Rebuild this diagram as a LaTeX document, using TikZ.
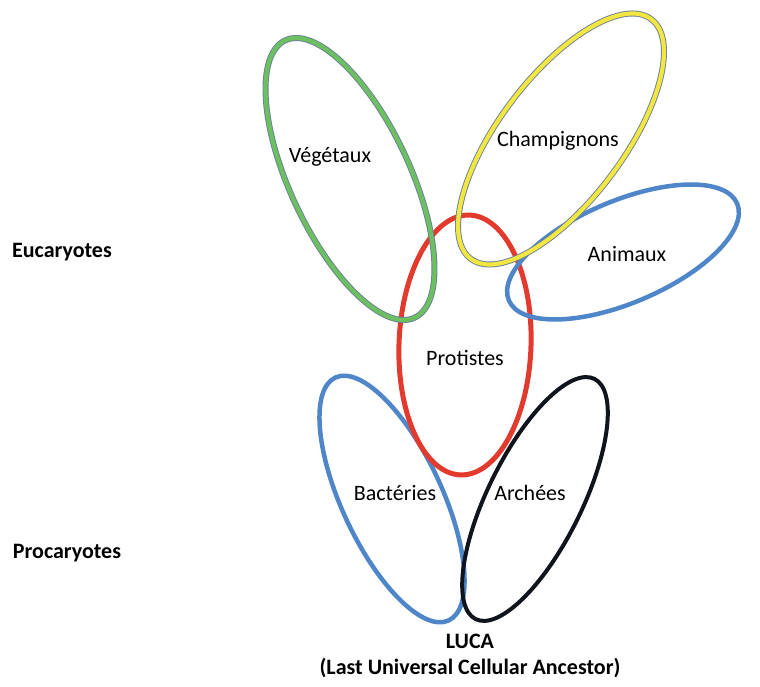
\documentclass[tikz,border=0pt]{standalone}
\usepackage{fontspec}
\setmainfont{Carlito}
\definecolor{vegGreen}{HTML}{6CC060}
\definecolor{champYellow}{HTML}{F2E640}
\definecolor{edgeGray}{HTML}{6A7F9A}
\definecolor{protRed}{HTML}{E23B2E}
\definecolor{kingBlue}{HTML}{4F86C9}
\definecolor{archBlack}{HTML}{10141C}
\tikzset{
  lbl/.style={font=\fontsize{22}{26}\selectfont, inner sep=1pt},
  bigtitle/.style={font=\bfseries\fontsize{22}{26}\selectfont, inner sep=1pt, align=center},
  rimmed/.style={draw=edgeGray, line width=0.9pt, double distance=4.2pt},
  plainring/.style={line width=4.5pt},
}
\begin{document}
\begin{tikzpicture}[x=1pt,y=1pt]
\useasboundingbox (0,0) rectangle (760,687);
% procaryote groups
\draw[plainring, kingBlue, rotate around={115:(392,188)}] (392,188) ellipse [x radius=134pt, y radius=50pt];
\draw[plainring, archBlack, line width=4pt, rotate around={63.7:(535,188)}] (535,188) ellipse [x radius=134pt, y radius=47pt];
% protists in the middle
\draw[plainring, protRed, line width=5pt, rotate around={-2:(465,342)}] (465,342) ellipse [x radius=66pt, y radius=130pt];
% eucaryote kingdoms
\draw[plainring, kingBlue, rotate around={23:(623,435)}] (623,435) ellipse [x radius=124pt, y radius=51pt];
\draw[rimmed, double=vegGreen, rotate around={115:(350,508)}] (350,508) ellipse [x radius=153pt, y radius=60pt];
\draw[rimmed, double=champYellow, rotate around={53:(561,548)}] (561,548) ellipse [x radius=150pt, y radius=62pt];
% labels
\node[lbl] (veg) at (330,530) {Végétaux};
\node[lbl] (champ) at (558,546) {Champignons};
\node[lbl] (anim) at (627,433) {Animaux};
\node[lbl] (prot) at (465,329) {Protistes};
\node[lbl] (bact) at (395,194) {Bactéries};
\node[lbl] (arch) at (530,194) {Archées};
\node[bigtitle] (euc) at (62,435) {Eucaryotes};
\node[bigtitle] (proc) at (67,134) {Procaryotes};
\node[bigtitle] (luca) at (470,31) {LUCA\\(Last Universal Cellular Ancestor)};
\end{tikzpicture}
\end{document}
